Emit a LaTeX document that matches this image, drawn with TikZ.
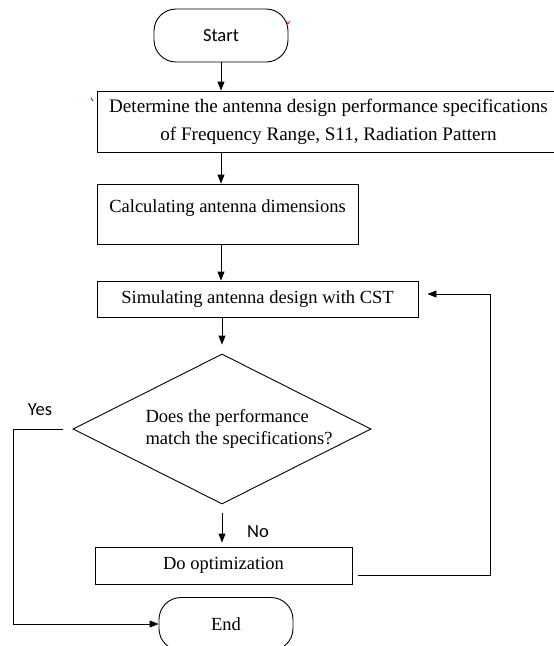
\documentclass[tikz,border=0pt]{standalone}
\usepackage{fontspec}
\setmainfont{Liberation Serif}
\newfontfamily\calibfont{Carlito}
\usetikzlibrary{positioning,calc,arrows.meta,shapes.geometric}

\begin{document}
\begin{tikzpicture}[x=1pt, y=1pt, on grid, line width=0.9pt,
    >={Triangle[length=9pt,width=7pt]},
    font=\fontsize{18.5}{22}\selectfont,
    term/.style={draw, rounded corners=22pt, minimum width=134pt,
      minimum height=53pt, inner sep=0pt},
    box/.style={draw, inner sep=0pt},
    decision/.style={draw, diamond, minimum width=298pt,
      minimum height=150pt, inner sep=0pt},
    answer/.style={font=\calibfont\fontsize{18.5}{22}\selectfont}]
  \useasboundingbox (0,0) rectangle (554,-646);
  \node[term] (start) at (221,-35.5) {\calibfont Start};%
  \node[box, minimum width=463pt, minimum height=61pt, align=center,
    font=\fontsize{19.1}{28}\selectfont] (spec)
    [below=86pt of start, xshift=107.5pt]
    {Determine the antenna design performance specifications\\
     of Frequency Range, S11, Radiation Pattern};%
  \node[box, minimum width=261pt, minimum height=60pt, text depth=16pt]
    (calc) [below=92.5pt of spec, xshift=-101pt]
    {Calculating antenna dimensions};%
  \node[box, minimum width=321pt, minimum height=36pt] (sim)
    [below=85pt of calc, xshift=30pt] {Simulating antenna design with CST};%
  \node[decision] (check) [below=130pt of sim, xshift=-35.5pt] {};%
  \node[align=left] (checktext) [right=17pt of check, yshift=0pt]
    {Does the performance\\match the specifications?};%
  \node[box, minimum width=257pt, minimum height=37pt] (opt)
    [below=136.5pt of check, xshift=1.5pt] {Do optimization};%
  \node[term] (stop) [below=58.5pt of opt, xshift=2.5pt] {End};%
  \node[answer] (yes) at (40,-410) {Yes};%
  \node[answer] (no) at (258,-532) {No};%
  \coordinate (yesbend) at (13,-429);%
  \coordinate (loopbend) at (490,-575);%
  % main column
  \draw[->] (start) -- (spec.north -| start);
  \draw[->] (spec.south -| start) -- (calc.north -| start);
  \draw[->] (calc.south -| start) -- (sim.north -| start);
  \draw[->, shorten >=9pt] (sim.south -| check) -- (check.north);
  \draw[->, shorten <=9pt, shorten >=4pt] (check.south) -- (opt.north -| check);
  % yes branch and loop back
  \draw[->, shorten <=10pt] (check.west) -- (yesbend) |- (stop.west);
  \draw[->, shorten <=6pt, shorten >=9pt] (opt.east |- loopbend) -- (loopbend)
    |- ([yshift=5pt]sim.east);
  % stray marks
  \draw[red, line width=0.8pt] (286,-21) -- (288,-24) -- (290,-21);
  \draw[red!60!black, line width=0.7pt] (91,-98) -- (93,-101);
\end{tikzpicture}
\end{document}
